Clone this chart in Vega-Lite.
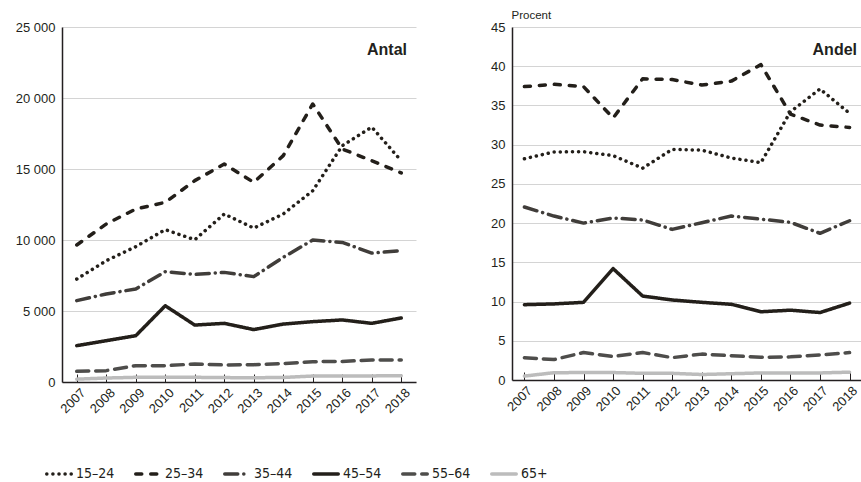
{
  "$schema": "https://vega.github.io/schema/vega-lite/v6.json",
  "padding": {"left": 15, "top": 9, "right": 0, "bottom": 5},
  "autosize": {"type": "pad"},
  "bounds": "flush",
  "spacing": 96,
  "data": {
    "values": [
      {"year": "2007", "group": "15–24", "antal": 7250, "andel": 28.2},
      {"year": "2008", "group": "15–24", "antal": 8540, "andel": 29.07},
      {"year": "2009", "group": "15–24", "antal": 9530, "andel": 29.1},
      {"year": "2010", "group": "15–24", "antal": 10730, "andel": 28.6},
      {"year": "2011", "group": "15–24", "antal": 10020, "andel": 27.0},
      {"year": "2012", "group": "15–24", "antal": 11830, "andel": 29.4},
      {"year": "2013", "group": "15–24", "antal": 10840, "andel": 29.3},
      {"year": "2014", "group": "15–24", "antal": 11830, "andel": 28.3},
      {"year": "2015", "group": "15–24", "antal": 13470, "andel": 27.7},
      {"year": "2016", "group": "15–24", "antal": 16640, "andel": 34.2},
      {"year": "2017", "group": "15–24", "antal": 17950, "andel": 37.1},
      {"year": "2018", "group": "15–24", "antal": 15580, "andel": 34.0},
      {"year": "2007", "group": "25–34", "antal": 9650, "andel": 37.4},
      {"year": "2008", "group": "25–34", "antal": 11130, "andel": 37.7},
      {"year": "2009", "group": "25–34", "antal": 12180, "andel": 37.4},
      {"year": "2010", "group": "25–34", "antal": 12650, "andel": 33.4},
      {"year": "2011", "group": "25–34", "antal": 14180, "andel": 38.4},
      {"year": "2012", "group": "25–34", "antal": 15350, "andel": 38.3},
      {"year": "2013", "group": "25–34", "antal": 14060, "andel": 37.6},
      {"year": "2014", "group": "25–34", "antal": 15940, "andel": 38.1},
      {"year": "2015", "group": "25–34", "antal": 19580, "andel": 40.2},
      {"year": "2016", "group": "25–34", "antal": 16410, "andel": 33.9},
      {"year": "2017", "group": "25–34", "antal": 15580, "andel": 32.5},
      {"year": "2018", "group": "25–34", "antal": 14720, "andel": 32.2},
      {"year": "2007", "group": "35–44", "antal": 5730, "andel": 22.05},
      {"year": "2008", "group": "35–44", "antal": 6200, "andel": 20.9},
      {"year": "2009", "group": "35–44", "antal": 6550, "andel": 20.0},
      {"year": "2010", "group": "35–44", "antal": 7770, "andel": 20.65},
      {"year": "2011", "group": "35–44", "antal": 7580, "andel": 20.4},
      {"year": "2012", "group": "35–44", "antal": 7720, "andel": 19.2},
      {"year": "2013", "group": "35–44", "antal": 7420, "andel": 20.05},
      {"year": "2014", "group": "35–44", "antal": 8780, "andel": 20.9},
      {"year": "2015", "group": "35–44", "antal": 10000, "andel": 20.5},
      {"year": "2016", "group": "35–44", "antal": 9830, "andel": 20.1},
      {"year": "2017", "group": "35–44", "antal": 9080, "andel": 18.7},
      {"year": "2018", "group": "35–44", "antal": 9250, "andel": 20.3},
      {"year": "2007", "group": "45–54", "antal": 2560, "andel": 9.6},
      {"year": "2008", "group": "45–54", "antal": 2910, "andel": 9.7},
      {"year": "2009", "group": "45–54", "antal": 3260, "andel": 9.9},
      {"year": "2010", "group": "45–54", "antal": 5370, "andel": 14.2},
      {"year": "2011", "group": "45–54", "antal": 4010, "andel": 10.7},
      {"year": "2012", "group": "45–54", "antal": 4130, "andel": 10.2},
      {"year": "2013", "group": "45–54", "antal": 3690, "andel": 9.9},
      {"year": "2014", "group": "45–54", "antal": 4080, "andel": 9.65},
      {"year": "2015", "group": "45–54", "antal": 4250, "andel": 8.7},
      {"year": "2016", "group": "45–54", "antal": 4370, "andel": 8.9},
      {"year": "2017", "group": "45–54", "antal": 4130, "andel": 8.6},
      {"year": "2018", "group": "45–54", "antal": 4510, "andel": 9.8},
      {"year": "2007", "group": "55–64", "antal": 750, "andel": 2.85},
      {"year": "2008", "group": "55–64", "antal": 800, "andel": 2.6},
      {"year": "2009", "group": "55–64", "antal": 1150, "andel": 3.5},
      {"year": "2010", "group": "55–64", "antal": 1150, "andel": 3.0},
      {"year": "2011", "group": "55–64", "antal": 1270, "andel": 3.5},
      {"year": "2012", "group": "55–64", "antal": 1200, "andel": 2.85},
      {"year": "2013", "group": "55–64", "antal": 1220, "andel": 3.3},
      {"year": "2014", "group": "55–64", "antal": 1300, "andel": 3.1},
      {"year": "2015", "group": "55–64", "antal": 1430, "andel": 2.9},
      {"year": "2016", "group": "55–64", "antal": 1450, "andel": 2.95},
      {"year": "2017", "group": "55–64", "antal": 1550, "andel": 3.2},
      {"year": "2018", "group": "55–64", "antal": 1550, "andel": 3.5},
      {"year": "2007", "group": "65+", "antal": 200, "andel": 0.5},
      {"year": "2008", "group": "65+", "antal": 280, "andel": 0.93},
      {"year": "2009", "group": "65+", "antal": 330, "andel": 0.95},
      {"year": "2010", "group": "65+", "antal": 340, "andel": 0.95},
      {"year": "2011", "group": "65+", "antal": 330, "andel": 0.85},
      {"year": "2012", "group": "65+", "antal": 310, "andel": 0.85},
      {"year": "2013", "group": "65+", "antal": 300, "andel": 0.7},
      {"year": "2014", "group": "65+", "antal": 320, "andel": 0.8},
      {"year": "2015", "group": "65+", "antal": 420, "andel": 0.9},
      {"year": "2016", "group": "65+", "antal": 430, "andel": 0.9},
      {"year": "2017", "group": "65+", "antal": 430, "andel": 0.9},
      {"year": "2018", "group": "65+", "antal": 440, "andel": 1.0}
    ]
  },
  "hconcat": [
    {
      "width": 354,
      "height": 355,
      "title": {"text": "Antal", "anchor": "end", "frame": "group", "offset": -50, "dx": -9, "baseline": "alphabetic"},
      "mark": {"type": "line", "strokeWidth": 3.5, "strokeCap": "round", "strokeJoin": "round"},
      "encoding": {
        "x": {"field": "year", "type": "ordinal", "scale": {"type": "point", "padding": 0.5},
          "axis": {"title": null, "labelAngle": -45, "tickSize": -8, "labelPadding": 12, "labelOffset": 2, "grid": false}},
        "y": {"field": "antal", "type": "quantitative", "scale": {"domain": [0, 25000], "nice": false},
          "axis": {"title": null, "values": [0, 5000, 10000, 15000, 20000, 25000], "format": ",d", "ticks": false, "labelPadding": 7, "grid": true}},
        "color": {"field": "group", "type": "nominal",
          "scale": {"domain": ["15–24", "25–34", "35–44", "45–54", "55–64", "65+"], "range": ["#231f1a", "#231f1a", "#403d3a", "#231f1a", "#4e4d4b", "#bcbcbc"]},
          "legend": {"title": null, "encode": {"symbols": {"update": {"strokeCap": {"value": "round"}}}}}},
        "strokeDash": {"field": "group", "type": "nominal",
          "scale": {"domain": ["15–24", "25–34", "35–44", "45–54", "55–64", "65+"], "range": [[0.1, 6], [6, 9], [13, 6, 0.1, 6], [1, 0], [12, 7], [1, 0]]},
          "legend": {"title": null, "encode": {"symbols": {"update": {"strokeCap": {"value": "round"}}}}}}
      }
    },
    {
      "width": 350,
      "height": 353,
      "title": {"text": "Andel", "anchor": "end", "frame": "group", "offset": -62, "dx": -5, "baseline": "alphabetic"},
      "mark": {"type": "line", "strokeWidth": 3.5, "strokeCap": "round", "strokeJoin": "round"},
      "encoding": {
        "x": {"field": "year", "type": "ordinal", "scale": {"type": "point", "padding": 0.42},
          "axis": {"title": null, "labelAngle": -45, "tickSize": -8, "labelPadding": 12, "labelOffset": 1, "grid": false}},
        "y": {"field": "andel", "type": "quantitative", "scale": {"domain": [0, 45], "nice": false},
          "axis": {"title": "Procent", "titleAngle": 0, "titleAlign": "left", "titleX": -1, "titleY": -9, "titleBaseline": "alphabetic", "titleFont": "Liberation Sans", "titleFontSize": 11.5, "titleFontWeight": "normal", "titleColor": "#231f20",
            "values": [0, 5, 10, 15, 20, 25, 30, 35, 40, 45], "ticks": false, "labelPadding": 7, "grid": true}},
        "color": {"field": "group", "type": "nominal", "legend": {"title": null}},
        "strokeDash": {"field": "group", "type": "nominal", "legend": {"title": null}}
      }
    }
  ],
  "resolve": {"scale": {"color": "shared", "strokeDash": "shared"}},
  "config": {
    "locale": {"number": {"decimal": ",", "thousands": " ", "grouping": [3], "currency": ["", ""]}},
    "view": {"stroke": null},
    "font": "Liberation Sans",
    "axis": {
      "domainColor": "#231f20",
      "domainWidth": 1.5,
      "tickColor": "#231f20",
      "gridColor": "#d4d4d4",
      "gridWidth": 1,
      "labelColor": "#231f20",
      "labelFont": "Liberation Sans",
      "labelFontSize": 13
    },
    "title": {"font": "Liberation Sans", "fontSize": 16, "fontWeight": "bold", "color": "#231f20"},
    "legend": {
      "orient": "none",
      "legendX": -17,
      "legendY": 433,
      "direction": "horizontal",
      "symbolType": "stroke",
      "symbolSize": 600,
      "symbolStrokeWidth": 3.5,
      "labelFont": "DejaVu Sans Condensed, Roboto, Liberation Sans",
      "labelFontSize": 14,
      "labelColor": "#231f20",
      "labelOffset": 3,
      "columnPadding": 13
    }
  }
}
